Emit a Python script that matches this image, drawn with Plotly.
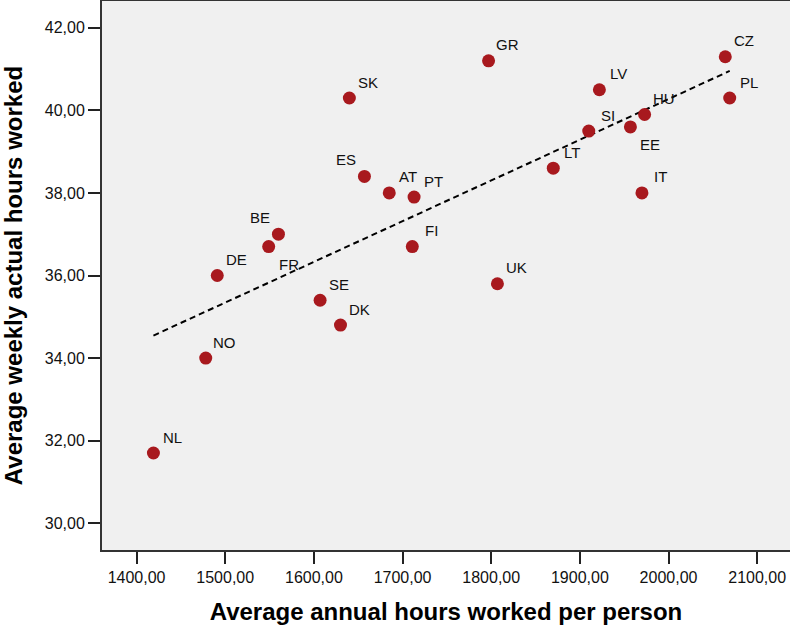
import numpy as np
import plotly.graph_objects as go

# Country codes and their working-hours figures
countries = ["AT", "BE", "CZ", "DK", "EE", "FI", "FR", "DE", "GR", "HU", "IT",
             "LV", "LT", "NL", "NO", "PL", "PT", "SK", "SI", "ES", "SE", "UK"]
annual_hours = [1685, 1560, 2064, 1630, 1957, 1711, 1549, 1491, 1797, 1973, 1970,
                1922, 1870, 1419, 1478, 2069, 1713, 1640, 1910, 1657, 1607, 1807]
weekly_hours = [38.0, 37.0, 41.3, 34.8, 39.6, 36.7, 36.7, 36.0, 41.2, 39.9, 38.0,
                40.5, 38.6, 31.7, 34.0, 40.3, 37.9, 40.3, 39.5, 38.4, 35.4, 35.8]

x_ticks = [1400, 1500, 1600, 1700, 1800, 1900, 2000, 2100]
y_ticks = [30, 32, 34, 36, 38, 40, 42]

# Label placement relative to each point (default: upper right)
label_side = {"ES": "ul", "BE": "ul", "FR": "lr", "EE": "lr"}
offsets = {"ur": (19, 16), "ul": (-18, 17), "lr": (20, -18)}

# Least-squares fit line across the observed range
slope, intercept = np.polyfit(annual_hours, weekly_hours, 1)
fit_x = np.array([min(annual_hours), max(annual_hours)])
fit_y = slope * fit_x + intercept

fig = go.Figure()
fig.add_trace(go.Scatter(
    x=fit_x, y=fit_y, mode="lines",
    line=dict(color="black", width=2, dash="6px,4px"),
    hoverinfo="skip", showlegend=False,
))
fig.add_trace(go.Scatter(
    x=annual_hours, y=weekly_hours, mode="markers",
    marker=dict(size=13, color="#a8191e"),
    text=countries, showlegend=False,
))

for c, xv, yv in zip(countries, annual_hours, weekly_hours):
    dx, dy = offsets[label_side.get(c, "ur")]
    fig.add_annotation(
        x=xv, y=yv, text=c, showarrow=False,
        xshift=dx, yshift=dy, xanchor="center", yanchor="middle",
        font=dict(family="Liberation Sans, Arial, sans-serif", size=15, color="#111"),
    )

axis_font = dict(family="Liberation Sans, Arial, sans-serif", size=16, color="#111")
title_font = dict(family="Liberation Sans, Arial, sans-serif", size=24, color="#000")

fig.update_layout(
    width=790, height=629,
    margin=dict(l=102, r=0, t=1, b=79),
    paper_bgcolor="white",
    plot_bgcolor="#f0f0f0",
    separators=",.",
    xaxis=dict(
        range=[1361, 2137],
        tickvals=x_ticks, tickformat=".2f",
        showgrid=False, zeroline=False,
        showline=True, linecolor="#333", linewidth=2, mirror=True,
        ticks="outside", ticklen=12, tickwidth=2, tickcolor="#222",
        tickfont=axis_font,
        title=dict(text="<b>Average annual hours worked per person</b>",
                   font=title_font, standoff=18),
    ),
    yaxis=dict(
        range=[29.35, 42.65],
        tickvals=y_ticks, tickformat=".2f",
        showgrid=False, zeroline=False,
        showline=True, linecolor="#333", linewidth=2,
        ticks="outside", ticklen=12, tickwidth=2, tickcolor="#222",
        tickfont=axis_font,
        title=dict(text="<b>Average weekly actual hours worked</b>",
                   font=title_font, standoff=18),
    ),
)

fig.write_html("out.html")
